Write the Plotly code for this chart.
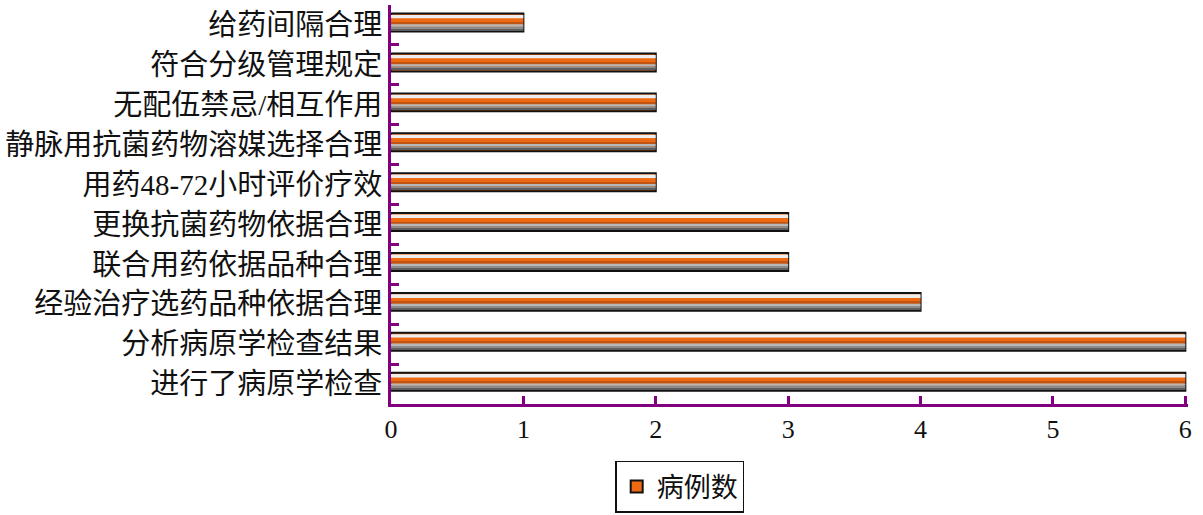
import plotly.graph_objects as go

categories = ["给药间隔合理", "符合分级管理规定", "无配伍禁忌/相互作用", "静脉用抗菌药物溶媒选择合理",
              "用药48-72小时评价疗效", "更换抗菌药物依据合理", "联合用药依据品种合理",
              "经验治疗选药品种依据合理", "分析病原学检查结果", "进行了病原学检查"]
values = [1, 2, 2, 2, 2, 3, 3, 4, 6, 6]
series_name = "病例数"

FONT = "Liberation Serif, Noto Sans CJK SC, serif"
PURPLE = "#800080"
BAR_W = 0.45

# stripes from top (0) to bottom (1) of the cylinder
stripes = [
    (0.08, 0.28, "#EDEDED"),
    (0.28, 0.50, "#EE6A12"),
    (0.50, 0.60, "#BF5414"),
    (0.60, 0.73, "#B8B8B8"),
    (0.73, 0.86, "#8C8C8C"),
    (0.86, 0.93, "#5E5E5E"),
]

fig = go.Figure()
# base (outline) bar
fig.add_trace(go.Bar(
    y=categories, x=values, orientation="h", name=series_name,
    width=BAR_W, offset=-BAR_W / 2 - 0.06,
    marker=dict(color="#EE6A12", line=dict(color="#111111", width=2)),
    showlegend=True, hoverinfo="skip",
))
for top, bot, col in stripes:
    w = (bot - top) * BAR_W
    off = -BAR_W / 2 - 0.06 + top * BAR_W  # y axis reversed: larger data = lower on screen
    fig.add_trace(go.Bar(
        y=categories, x=values, orientation="h",
        width=w, offset=off,
        marker=dict(color=col, line=dict(width=0)),
        showlegend=False, hoverinfo="skip",
    ))

fig.update_layout(
    width=1203, height=515,
    margin=dict(l=391, r=15, t=5, b=111),
    paper_bgcolor="white", plot_bgcolor="white",
    barmode="overlay",
    font=dict(family=FONT, size=26, color="#111111"),
    legend=dict(
        orientation="h", xref="container", yref="container",
        x=0.565, y=0.004, xanchor="center", yanchor="bottom",
        bordercolor="#111111", borderwidth=1.5,
        font=dict(size=27), itemwidth=30,
    ),
)
fig.update_xaxes(
    range=[0, 6.02], dtick=1, showgrid=False, zeroline=False,
    showline=True, linecolor=PURPLE, linewidth=3,
    ticks="inside", tickcolor=PURPLE, tickwidth=3, ticklen=8,
    tickfont=dict(size=26),
)
fig.update_yaxes(
    type="category", autorange=False, range=[9.5, -0.5],
    showgrid=False, zeroline=False,
    showline=True, linecolor=PURPLE, linewidth=3,
    ticks="inside", tickson="boundaries", tickcolor=PURPLE, tickwidth=3, ticklen=8,
    tickfont=dict(size=29),
)

fig.write_html("out.html")
